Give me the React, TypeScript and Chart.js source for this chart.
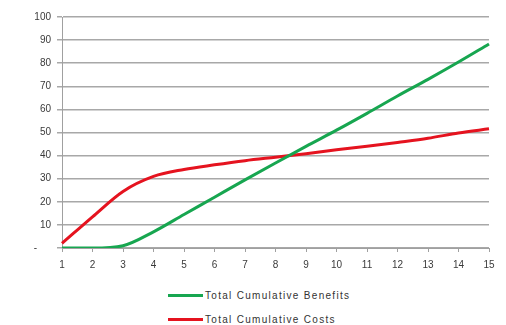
import React, { useEffect, useRef } from "react";
import { Chart, registerables } from "chart.js";

Chart.register(...registerables);

const years = ["1", "2", "3", "4", "5", "6", "7", "8", "9", "10", "11", "12", "13", "14", "15"];
const benefits = [0, 0, 1, 7, 14.5, 22, 29.5, 36.8, 44, 51, 58.3, 65.8, 73, 80.5, 88.3];
const costs = [2, 13.5, 24.5, 31, 34, 36, 37.8, 39.3, 40.8, 42.5, 44, 45.7, 47.5, 49.8, 51.6];
const seriesNames = ["Total Cumulative Benefits", "Total Cumulative Costs"];
const seriesColors = ["#17a650", "#e5131f"];

export default function App() {
  const ref = useRef<HTMLCanvasElement>(null);
  useEffect(() => {
    const canvas = ref.current;
    if (!canvas) return;
    const font = { family: "Arial, 'Liberation Sans', sans-serif", size: 10 };
    const chart = new Chart(canvas, {
      type: "line",
      data: {
        labels: years,
        datasets: [
          {
            label: seriesNames[0],
            data: benefits,
            borderColor: seriesColors[0],
            backgroundColor: seriesColors[0],
            borderWidth: 3,
            pointRadius: 0,
            cubicInterpolationMode: "monotone",
          },
          {
            label: seriesNames[1],
            data: costs,
            borderColor: seriesColors[1],
            backgroundColor: seriesColors[1],
            borderWidth: 3,
            pointRadius: 0,
            cubicInterpolationMode: "monotone",
          },
        ],
      },
      options: {
        animation: false,
        responsive: false,
        maintainAspectRatio: false,
        layout: { padding: { left: 0, right: 17, top: 17, bottom: 0 } },
        plugins: { legend: { display: false }, tooltip: { enabled: false } },
        scales: {
          x: {
            offset: false,
            grid: { display: true, drawOnChartArea: false, drawTicks: true, tickLength: 4, color: "#a0a0a0" },
            border: { color: "#a0a0a0", width: 1 },
            ticks: { color: "#3a3a3a", font, padding: 7, maxRotation: 0, autoSkip: false },
            afterFit: (s: any) => { s.height = 32; },
          },
          y: {
            min: 0,
            max: 100,
            grid: { color: "#a8a8a8", lineWidth: 1.5, tickLength: 5 },
            border: { color: "#a0a0a0", width: 1 },
            ticks: {
              stepSize: 10,
              color: "#3a3a3a",
              font,
              padding: 6,
              callback: (v: any) => (v === 0 ? "-     " : String(v)),
            },
            afterFit: (s: any) => { s.width = 62; },
          },
        },
      },
    });
    return () => chart.destroy();
  }, []);

  const legendItem = (i: number, top: number) => (
    <div
      key={i}
      style={{
        position: "absolute",
        left: 168,
        top,
        height: 12,
        display: "flex",
        alignItems: "center",
        fontFamily: "Arial, 'Liberation Sans', sans-serif",
        fontSize: 10,
        letterSpacing: 1.3,
        color: "#333",
        whiteSpace: "nowrap",
      }}
    >
      <span style={{ display: "inline-block", width: 35, height: 3, background: seriesColors[i], marginRight: 2 }} />
      <span>{seriesNames[i]}</span>
    </div>
  );

  return (
    <div style={{ position: "fixed", left: 0, top: 0, width: 506, height: 325, background: "#fff" }}>
      <canvas ref={ref} width={506} height={280} style={{ position: "absolute", left: 0, top: 0 }} />
      {legendItem(0, 289)}
      {legendItem(1, 313)}
    </div>
  );
}
